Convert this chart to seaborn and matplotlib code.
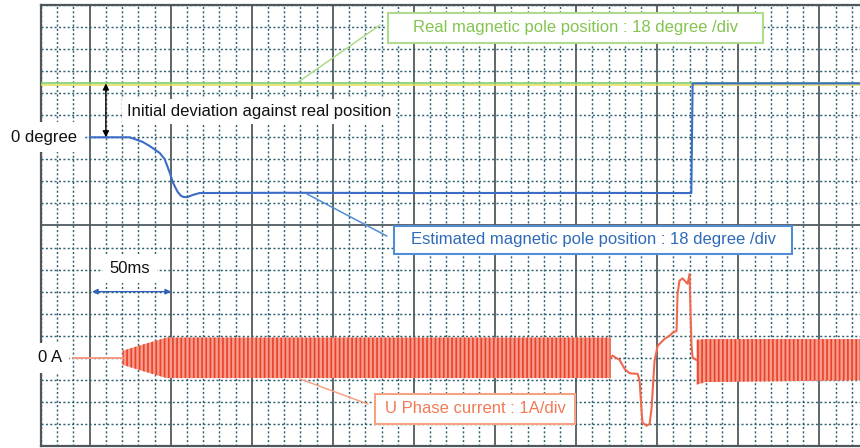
import matplotlib
matplotlib.use("Agg")
import pandas as pd
import matplotlib.pyplot as plt
import matplotlib.patheffects as pe
from matplotlib.patches import Rectangle
from matplotlib.ticker import MultipleLocator, FixedLocator
import seaborn as sns

# ---- scope screen settings -------------------------------------------------
DEG_PER_DIV = 18          # angle channel scale
AMP_PER_DIV = 1           # current channel scale
ANGLE_ZERO_ROW = 14       # screen row of 0 degree
CURRENT_ZERO_ROW = 4      # screen row of 0 A

# ---- real magnetic pole position (degree) ----------------------------------
real_t = [-30, 475]
real_deg = [44, 44]

# ---- estimated magnetic pole position (degree) -----------------------------
est_t = [0, 24.7, 32.7, 37.0, 43.2, 46.2, 48.1, 49.9, 51.2, 53.0, 54.3, 56.1,
         58.0, 60.4, 63.5, 67.8, 120, 200, 300, 371.0, 371.8, 475]
est_deg = [0, 0, -3.8, -7.1, -12.8, -17.7, -24.3, -30.8, -36.5, -41.4, -44.6, -47.5,
           -48.8, -48.8, -47.1, -45.5, -45.3, -45.5, -45.4, -45.5, 44, 44]

# ---- U phase current (A) ---------------------------------------------------
# quiet lead-in before switching starts
lead_t = [-10.5, 20.3]
lead_amp = [0, 0]
# transient between the two switching bursts
trans_t = [321.2, 322.4, 326.8, 329.8, 332.9, 337.9, 339.1, 340.3, 340.9, 343.4,
           345.3, 346.5, 348.3, 350.2, 354.5, 357.6, 359.4, 361.9, 362.5, 363.7,
           365.6, 368.1, 368.7, 369.9, 370.5, 371.1, 371.8, 374.2]
trans_amp = [0, 0.1, -0.1, -0.5, -0.7, -0.73, -1.04, -2.4, -2.95, -3.08,
             -3.0, -2.27, -0.14, 0.54, 0.86, 1.0, 1.13, 1.22, 2.9, 3.5,
             3.6, 3.4, 3.36, 3.8, 2.1, 0.6, 0, -0.1]
# envelope of the PWM switching bursts
burst1_t = [20.3, 32.7, 47.5, 321.2]
burst1_hi = [0.32, 0.6, 0.92, 0.92]
burst1_lo = [-0.32, -0.6, -0.92, -0.92]
burst2_t = [374.2, 380, 475]
burst2_hi = [0.82, 0.85, 0.85]
burst2_lo = [-1.22, -1.1, -1.02]

# ---- annotation texts ------------------------------------------------------
label_zero_deg = "0 degree"
label_zero_amp = "0 A"
label_dev = "Initial deviation against real position"
label_real = "Real magnetic pole position : 18 degree /div"
label_est = "Estimated magnetic pole position : 18 degree /div"
label_cur = "U Phase current : 1A/div"
label_time = "50ms"


def angle_row(v):
    return [ANGLE_ZERO_ROW + d / DEG_PER_DIV for d in v]


def current_row(v):
    return [CURRENT_ZERO_ROW + a / AMP_PER_DIV for a in v]


sns.set_style("white")
plt.rcParams["font.family"] = ["Liberation Sans", "DejaVu Sans"]
plt.rcParams["hatch.linewidth"] = 1.2
plt.rcParams["hatch.color"] = "#eb402a"

FS = 12
W, H = 860, 448
fig = plt.figure(figsize=(W / 100, H / 100), dpi=100)
ax = fig.add_axes([41 / W, 2 / H, 819 / W, 441 / H])
ax.set_xlim(-30, 475)
ax.set_ylim(0, 20)

# graticule
ax.xaxis.set_major_locator(MultipleLocator(50))
ax.xaxis.set_minor_locator(MultipleLocator(10))
ax.yaxis.set_major_locator(FixedLocator([10]))
ax.yaxis.set_minor_locator(MultipleLocator(1))
ax.set_axisbelow(True)
ax.grid(which="minor", color="#2c6070", linestyle=(0, (1.4, 1.6)), linewidth=1.05)
ax.grid(which="major", color="#505a5f", linestyle="-", linewidth=1.3)
ax.tick_params(which="both", length=0, labelbottom=False, labelleft=False)
ax.set_xlabel("")
ax.set_ylabel("")
for side in ("left", "top", "bottom"):
    ax.spines[side].set_color("#4d575c")
    ax.spines[side].set_linewidth(1.6)
ax.spines["right"].set_visible(False)

# ---- current channel -------------------------------------------------------
cur_color = "#f0694f"
for bt, bh, bl in ((burst1_t, burst1_hi, burst1_lo), (burst2_t, burst2_hi, burst2_lo)):
    ax.fill_between(bt, current_row(bl), current_row(bh), facecolor="#f59c8a",
                    edgecolor="#eb402a", hatch="||||", linewidth=0, zorder=3)

lead_df = pd.DataFrame({"t": lead_t, "y": current_row(lead_amp)})
sns.lineplot(data=lead_df, x="t", y="y", ax=ax, color="#f39a84", linewidth=1.4,
             estimator=None, sort=False, zorder=3)
trans_df = pd.DataFrame({"t": trans_t, "y": current_row(trans_amp)})
sns.lineplot(data=trans_df, x="t", y="y", ax=ax, color=cur_color, linewidth=1.5,
             estimator=None, sort=False, zorder=3)

# ---- angle channel ---------------------------------------------------------
est_df = pd.DataFrame({"t": est_t, "y": angle_row(est_deg)})
sns.lineplot(data=est_df, x="t", y="y", ax=ax, color="#3b6cc6", linewidth=1.5,
             estimator=None, sort=False, zorder=4)
real_df = pd.DataFrame({"t": real_t, "y": angle_row(real_deg)})
sns.lineplot(data=real_df, x="t", y="y", ax=ax, color="#7fcf72", linewidth=1.2,
             estimator=None, sort=False, zorder=3.5,
             path_effects=[pe.SimpleLineShadow(offset=(0, -1.2), shadow_color="#e8df62",
                                               alpha=1.0, rho=1.0), pe.Normal()])

# ---- annotations -----------------------------------------------------------
white_box = dict(boxstyle="square,pad=0.45", facecolor="white", edgecolor="none")

ax.text(-48.5, angle_row([0])[0], label_zero_deg, fontsize=FS, color="#111111",
        ha="left", va="center", bbox=white_box, zorder=6, clip_on=False)
ax.text(-32.0, current_row([0])[0], label_zero_amp, fontsize=FS, color="#111111",
        ha="left", va="center", bbox=white_box, zorder=6, clip_on=False)
ax.text(22.8, 15.19, label_dev, fontsize=FS, color="#111111", ha="left", va="center",
        bbox=dict(boxstyle="square,pad=0.3", facecolor="white", edgecolor="none"), zorder=6)
ax.annotate("", xy=(10, angle_row([0])[0]), xytext=(10, angle_row(real_deg)[0]),
            arrowprops=dict(arrowstyle="<|-|>", color="black", lw=1.0,
                            mutation_scale=9, shrinkA=0, shrinkB=0), zorder=6)

ax.text(24.9, 8.03, label_time, fontsize=FS, color="#111111", ha="center", va="center",
        bbox=dict(boxstyle="square,pad=0.4", facecolor="white", edgecolor="none"), zorder=6)
ax.annotate("", xy=(1.5, 7.0), xytext=(50.2, 7.0),
            arrowprops=dict(arrowstyle="<|-|>", color="#2f62b8", lw=1.0,
                            mutation_scale=8, shrinkA=0, shrinkB=0), zorder=6)


def callout(x0, x1, y0, y1, text, tcolor, ecolor, lead):
    ax.add_patch(Rectangle((x0, y0), x1 - x0, y1 - y0, facecolor="white",
                           edgecolor=ecolor, linewidth=1.5, zorder=7))
    ax.text((x0 + x1) / 2, (y0 + y1) / 2, text, fontsize=FS, color=tcolor,
            ha="center", va="center", zorder=8)
    ax.plot(lead[0], lead[1], color=ecolor, linewidth=1.1, zorder=6)


callout(184.0, 415.2, 18.28, 19.64, label_real, "#84c450", "#aedb8c",
        ([179.0, 128.5], [19.09, 16.5]))
callout(187.7, 433.1, 8.71, 9.98, label_est, "#2f6bb8", "#4f8ed4",
        ([134.0, 183.3], [11.43, 9.52]))
callout(175.9, 299.3, 1.0, 2.36, label_cur, "#f07a55", "#f5a385",
        ([129.7, 171.6], [3.04, 1.9]))

fig.savefig("out.png", dpi=100, facecolor="white")
